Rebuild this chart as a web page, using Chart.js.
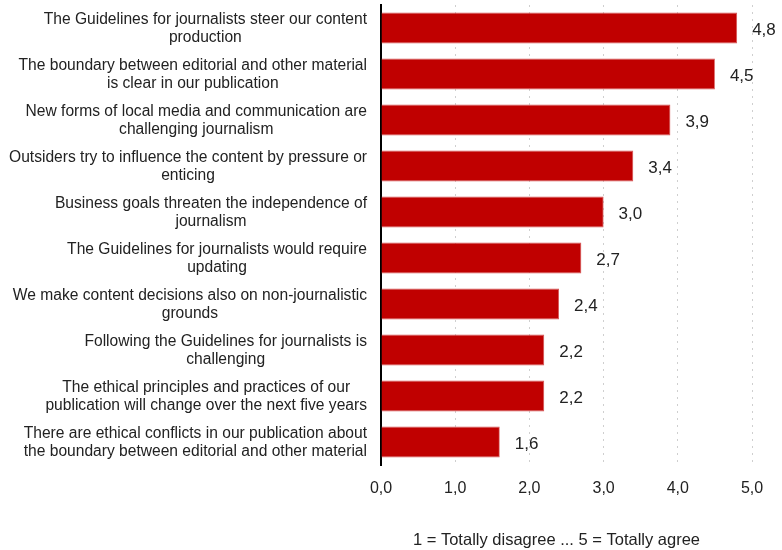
<!DOCTYPE html>
<html>
<head>
<meta charset="utf-8">
<script src="https://cdn.jsdelivr.net/npm/chart.js@4.4.0/dist/chart.umd.min.js"></script>
<style>
  html, body { margin: 0; padding: 0; background: #fff; }
  #wrap { width: 782px; height: 550px; }
</style>
</head>
<body>
<div id="wrap"><canvas id="grafica"></canvas></div>
<script>
var categorias = [
  ['The Guidelines for journalists steer our content', 'production'],
  ['The boundary between editorial and other material', 'is clear in our publication'],
  ['New forms of local media and communication are', 'challenging journalism'],
  ['Outsiders try to influence the content by pressure or', 'enticing'],
  ['Business goals threaten the independence of', 'journalism'],
  ['The Guidelines for journalists would require', 'updating'],
  ['We make content decisions also on non-journalistic', 'grounds'],
  ['Following the Guidelines for journalists is', 'challenging'],
  ['The ethical principles and practices of our', 'publication will change over the next five years'],
  ['There are ethical conflicts in our publication about', 'the boundary between editorial and other material']
];
var valores = [4.8, 4.5, 3.9, 3.4, 3.0, 2.7, 2.4, 2.2, 2.2, 1.6];
var ticksX = [0, 1, 2, 3, 4, 5];
var tituloX = '1 = Totally disagree ... 5 = Totally agree';

var fuente = '"Liberation Sans", Arial, sans-serif';
var coma = function(v){ return Number(v).toFixed(1).replace('.', ','); };

// etiquetas al final de cada barra + textos de categoria centrados en bloque
var etiquetas = {
  id: 'etiquetas',
  afterDatasetsDraw: function(chart){
    var ctx = chart.ctx;
    var meta = chart.getDatasetMeta(0);
    var yScale = chart.scales.y;
    var xScale = chart.scales.x;
    ctx.save();
    ctx.fillStyle = '#222';
    ctx.textBaseline = 'middle';

    ctx.font = '17px ' + fuente;
    ctx.textAlign = 'left';
    meta.data.forEach(function(bar, i){
      ctx.fillText(coma(valores[i]), bar.x + 15, bar.y + 2);
    });

    ctx.font = '15.6px ' + fuente;
    ctx.textAlign = 'center';
    var derecha = yScale.right - 14;
    categorias.forEach(function(lineas, i){
      var y = yScale.getPixelForValue(i);
      var ancho = Math.max.apply(null, lineas.map(function(l){ return ctx.measureText(l).width; }));
      var cx = derecha - ancho / 2;
      var alto = 18;
      var y0 = y - (lineas.length - 1) * alto / 2;
      lineas.forEach(function(l, j){
        ctx.fillText(l, cx, y0 + j * alto + 1);
      });
    });

    // titulo del eje x
    ctx.font = '16.5px ' + fuente;
    ctx.fillText(tituloX, (xScale.left + xScale.right) / 2 - 10, 540);
    ctx.restore();
  }
};

var Canvas = document.getElementById('grafica').getContext('2d');
var chart = new Chart(Canvas, {
  type: 'bar',
  data: {
    labels: categorias,
    datasets: [{
      data: valores,
      backgroundColor: '#C00000',
      borderColor: '#d55050',
      borderWidth: 0.8,
      barPercentage: 0.67,
      categoryPercentage: 1
    }]
  },
  options: {
    indexAxis: 'y',
    responsive: true,
    maintainAspectRatio: false,
    animation: false,
    layout: { padding: { top: 5, right: 30, bottom: 0, left: 0 } },
    plugins: { legend: { display: false }, tooltip: { enabled: false } },
    scales: {
      x: {
        min: 0,
        max: 5,
        afterBuildTicks: function(scale){
          scale.ticks = ticksX.map(function(v){ return { value: v }; });
        },
        afterFit: function(scale){ scale.height = 85; },
        grid: {
          display: true,
          drawTicks: false,
          color: '#cfcfcf',
          lineWidth: 1
        },
        border: { display: false, dash: [2, 5] },
        ticks: {
          padding: 14,
          color: '#222',
          font: { size: 16, family: fuente },
          callback: function(v){ return coma(v); }
        }
      },
      y: {
        afterFit: function(scale){
          scale.width = 381;
          scale.paddingTop = 0;
          scale.paddingBottom = 0;
        },
        grid: { display: false, drawTicks: false },
        border: { display: true, color: '#000', width: 2 },
        ticks: { display: false }
      }
    }
  },
  plugins: [etiquetas]
});
</script>
</body>
</html>
